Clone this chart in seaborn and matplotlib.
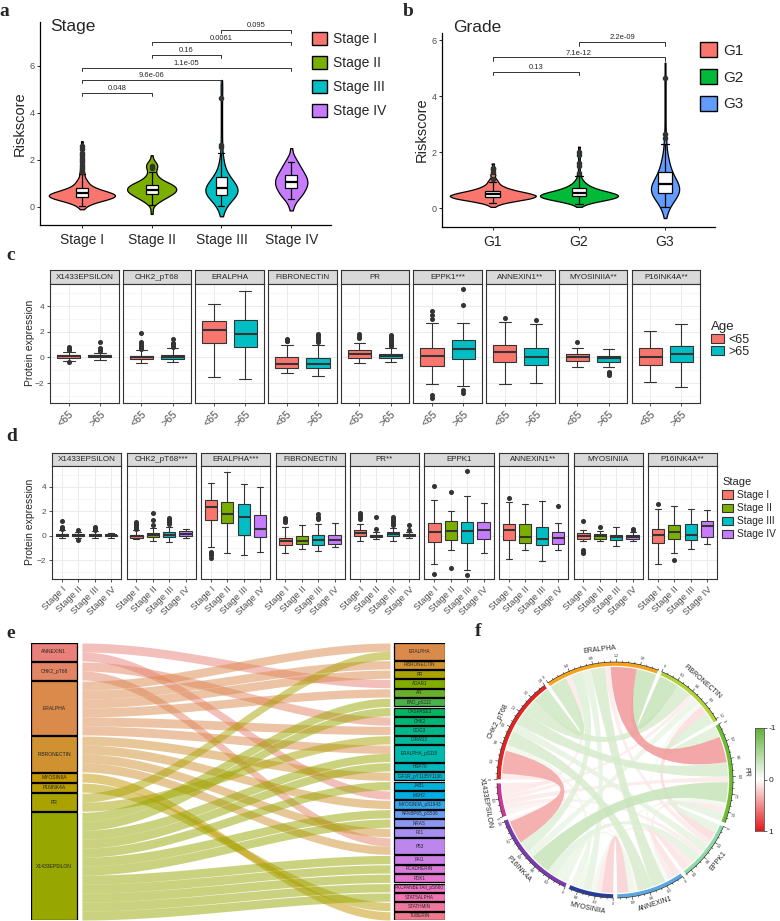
import numpy as np
import pandas as pd
import matplotlib
matplotlib.use("Agg")
import matplotlib.pyplot as plt
from matplotlib.patches import Patch, Rectangle, PathPatch
from matplotlib.path import Path
from matplotlib.colors import LinearSegmentedColormap
import seaborn as sns

sns.set_style("white")
plt.rcParams['font.family'] = ['Liberation Sans', 'DejaVu Sans']

# ---------------- data: panel a / b (riskscore) ----------------
stage_names = ["Stage I", "Stage II", "Stage III", "Stage IV"]
stage_cols = ["#F8766D", "#7CAE00", "#00BFC4", "#C77CFF"]
# violin shape: riskscore levels and number of samples at each level
stage_vio_levels = [
    [-0.1, 0.0, 0.1, 0.2, 0.3, 0.4, 0.5, 0.6, 0.7, 0.8, 0.9, 1.0, 1.1, 1.2, 1.4, 1.6,
     1.8, 2.0, 2.2, 2.4, 2.6, 2.8],
    [-0.3, -0.1, 0.1, 0.2, 0.3, 0.4, 0.5, 0.6, 0.7, 0.8, 0.9, 1.0, 1.1, 1.2, 1.3, 1.4,
     1.5, 1.6, 1.7, 1.8, 1.9, 2.0, 2.2],
    [-0.4, -0.2, 0.0, 0.2, 0.4, 0.6, 0.8, 1.0, 1.2, 1.4, 1.6, 1.8, 2.0, 2.2, 2.5, 2.8,
     3.2, 3.6, 4.0, 4.4, 4.8, 5.1, 5.4],
    [-0.15, 0.0, 0.15, 0.3, 0.45, 0.6, 0.75, 0.9, 1.05, 1.2, 1.35, 1.5, 1.65, 1.8, 1.95,
     2.1, 2.25, 2.5],
]
stage_vio_counts = [
    [1, 2, 4, 8, 14, 20, 22, 18, 12, 8, 5, 4, 3, 3, 3, 2, 2, 2, 1, 1, 1, 1],
    [1, 1, 2, 3, 5, 7, 9, 11, 12, 12, 11, 9, 6, 4, 3, 2, 2, 2, 3, 3, 2, 1, 1],
    [1, 2, 3, 6, 11, 15, 15, 11, 8, 5, 3, 2, 2, 1, 1, 1, 1, 1, 1, 1, 1, 1, 1],
    [1, 1, 2, 3, 5, 6, 7, 8, 8, 8, 7, 6, 5, 4, 3, 2, 1, 1],
]
# box: whisker low, q1, median, q3, whisker high ; outliers
stage_box = [[0.05, 0.44, 0.6, 0.82, 1.38], [0.1, 0.55, 0.72, 0.95, 1.5],
             [0.05, 0.5, 0.82, 1.29, 2.3], [0.35, 0.8, 1.05, 1.35, 1.9]]
stage_out = [[1.5, 1.6, 1.7, 1.8, 1.9, 2.0, 2.1, 2.2, 2.3, 2.45, 2.6], [1.65, 1.75],
             [2.55, 2.65, 4.65], []]
stage_pairs = [(0, 1), (0, 2), (0, 3), (1, 2), (1, 3), (2, 3)]
stage_pair_y = [4.86, 5.4, 5.93, 6.47, 7.0, 7.53]
stage_pvals = ["0.048", "9.6e-06", "1.1e-05", "0.16", "0.0061", "0.095"]

grade_names = ["G1", "G2", "G3"]
grade_cols = ["#F8766D", "#00BA38", "#619CFF"]
grade_vio_levels = [
    [0.05, 0.15, 0.25, 0.35, 0.45, 0.55, 0.65, 0.75, 0.85, 0.95, 1.05, 1.2, 1.4, 1.6],
    [0.05, 0.15, 0.25, 0.35, 0.45, 0.55, 0.65, 0.75, 0.85, 0.95, 1.05, 1.2, 1.4, 1.6,
     1.8, 2.0, 2.2],
    [-0.35, -0.15, 0.05, 0.25, 0.45, 0.65, 0.85, 1.05, 1.25, 1.45, 1.65, 1.85, 2.1, 2.4,
     2.7, 3.1, 3.5, 3.9, 4.3, 4.7, 5.2],
]
grade_vio_counts = [
    [1, 4, 12, 22, 26, 20, 12, 7, 4, 3, 2, 2, 1, 1],
    [1, 4, 12, 22, 26, 21, 13, 8, 5, 3, 2, 2, 1, 1, 1, 1, 1],
    [1, 2, 4, 8, 13, 16, 14, 10, 7, 5, 4, 3, 2, 2, 1, 1, 1, 1, 1, 1, 1],
]
grade_box = [[0.2, 0.4, 0.5, 0.62, 0.93], [0.15, 0.42, 0.55, 0.72, 1.15],
             [0.05, 0.55, 0.85, 1.3, 2.3]]
grade_out = [[1.05, 1.3, 1.4, 1.45], [1.25, 1.5, 1.6, 1.9, 2.0], [2.5, 2.65, 4.65]]
grade_pairs = [(0, 1), (0, 2), (1, 2)]
grade_pair_y = [4.88, 5.39, 5.93]
grade_pvals = ["0.13", "7.1e-12", "2.2e-09"]

# ---------------- data: panel c (age) ----------------
prot_names = ["X1433EPSILON", "CHK2_pT68", "ERALPHA", "FIBRONECTIN", "PR",
              "EPPK1", "ANNEXIN1", "MYOSINIIA", "P16INK4A"]
c_strips = ["X1433EPSILON", "CHK2_pT68", "ERALPHA", "FIBRONECTIN", "PR",
            "EPPK1***", "ANNEXIN1**", "MYOSINIIA**", "P16INK4A**"]
age_names = ["<65", ">65"]
age_cols = ["#F8766D", "#00BFC4"]
age_lt65_box = [[-0.25, -0.02, 0.08, 0.18, 0.45], [-0.45, -0.15, 0.0, 0.15, 0.55],
                [-1.51, 1.09, 2.15, 2.85, 4.2], [-1.25, -0.8, -0.5, 0.0, 1.0],
                [-0.4, -0.05, 0.25, 0.55, 1.1], [-2.1, -0.65, 0.1, 0.75, 2.65],
                [-2.1, -0.39, 0.39, 0.96, 2.77], [-0.73, -0.24, 0.05, 0.26, 0.75],
                [-1.9, -0.62, 0.05, 0.75, 2.05]]
age_lt65_out = [[0.55, 0.65, 0.78, -0.39], [0.65, 0.8, 0.9, 1.0, 1.1, 1.2, 1.87], [],
                [1.25, 1.3, 1.4], [1.5, 1.6, 1.7, 1.85], [3.0, 3.3, 3.6, -2.9, -3.15],
                [3.1], [1.17], []]
age_gt65_box = [[-0.2, 0.0, 0.08, 0.16, 0.38], [-0.35, -0.15, 0.05, 0.2, 0.7],
                [-1.7, 0.8, 1.85, 2.9, 5.2], [-1.45, -0.85, -0.55, -0.05, 1.0],
                [-0.35, -0.05, 0.1, 0.3, 0.75], [-2.2, -0.1, 0.62, 1.32, 2.7],
                [-2.0, -0.6, 0.0, 0.7, 2.6], [-0.75, -0.34, -0.08, 0.12, 0.62],
                [-2.28, -0.39, 0.28, 0.9, 2.57]]
age_gt65_out = [[0.5, 0.6, 0.7, 1.17], [0.85, 0.95, 1.05, 1.15, 1.45], [],
                [1.2, 1.35, 1.5, 1.65, 1.8], [0.9, 1.0, 1.1, 1.2, 1.3, 1.4, 1.5, 1.6, 1.75],
                [4.1, 5.3, -2.5, -2.75], [2.88], [-1.1, -1.2, -1.35], []]

# ---------------- data: panel d (stage) ----------------
d_strips = ["X1433EPSILON", "CHK2_pT68***", "ERALPHA***", "FIBRONECTIN", "PR**",
            "EPPK1", "ANNEXIN1**", "MYOSINIIA", "P16INK4A**"]
st1_box = [[-0.2, -0.02, 0.08, 0.18, 0.45], [-0.3, -0.15, 0.0, 0.1, 0.45],
           [-0.96, 1.31, 2.32, 2.95, 4.32], [-1.45, -0.75, -0.45, -0.15, 0.72],
           [-0.4, -0.05, 0.25, 0.5, 1.0], [-2.32, -0.55, 0.27, 1.04, 2.9],
           [-1.88, -0.33, 0.49, 0.96, 2.76], [-0.45, -0.25, 0.0, 0.2, 0.5],
           [-2.3, -0.6, 0.03, 0.57, 2.21]]
st1_out = [[0.55, 0.65, 0.75, 1.23], [0.55, 0.7, 0.85, 1.0, 1.15], [-1.3, -1.45, -1.6, -1.8],
           [1.1, 1.25, 1.45], [1.35, 1.5, 1.65, 1.8, 1.9], [4.12, -3.1], [3.08],
           [1.18, -1.2, -1.3, -1.4], [2.62]]
st2_box = [[-0.15, -0.02, 0.06, 0.15, 0.3], [-0.4, -0.1, 0.05, 0.25, 0.6],
           [-1.4, 1.04, 1.8, 2.76, 5.19], [-1.1, -0.7, -0.45, -0.05, 0.9],
           [-0.3, -0.1, 0.0, 0.1, 0.3], [-1.16, -0.33, 0.35, 1.18, 2.05],
           [-1.16, -0.6, -0.11, 0.98, 2.6], [-0.4, -0.25, -0.06, 0.13, 0.35],
           [-1.43, -0.25, 0.3, 0.87, 2.4]]
st2_out = [[0.45, -0.35], [0.9, 1.25, 1.9], [], [], [0.55, 1.5], [3.62, -2.65], [], [0.75], [-2.0]]
st3_box = [[-0.2, -0.03, 0.05, 0.15, 0.4], [-0.5, -0.1, 0.1, 0.3, 0.7],
           [-1.55, 0.08, 1.5, 2.58, 4.24], [-1.25, -0.8, -0.35, 0.05, 0.95],
           [-0.4, -0.05, 0.15, 0.3, 0.6], [-2.8, -0.6, 0.35, 1.1, 3.28],
           [-2.1, -0.74, -0.27, 0.71, 2.81], [-0.82, -0.33, -0.1, 0.08, 0.68],
           [-1.1, -0.33, 0.08, 0.98, 2.21]]
st3_out = [[0.5, 0.62, 0.75], [0.95, 1.1, 1.25, 1.45], [], [1.4, 1.55, 1.75],
           [0.9, 1.05, 1.2, 1.35, 1.55], [5.33, -3.2], [], [], []]
st4_box = [[-0.15, -0.03, 0.03, 0.1, 0.2], [-0.2, -0.05, 0.15, 0.4, 0.55],
           [-1.3, -0.14, 0.55, 1.7, 3.99], [-0.9, -0.65, -0.35, 0.1, 1.05],
           [-0.2, -0.05, 0.0, 0.12, 0.3], [-1.43, -0.3, 0.43, 1.1, 2.67],
           [-1.2, -0.68, -0.19, 0.3, 1.04], [-0.45, -0.27, -0.1, 0.03, 0.27],
           [-0.68, -0.14, 0.82, 1.18, 2.08]]
st4_out = [[], [], [], [], [0.5, 0.85], [], [2.43], [0.5, 0.55], []]

# ---------------- data: panel e (sankey) ----------------
left_nodes = ["ANNEXIN1", "CHK2_pT68", "ERALPHA", "FIBRONECTIN", "MYOSINIIA",
              "P16INK4A", "PR", "X1433EPSILON"]
right_nodes = ["ERALPHA", "FIBRONECTIN", "PR", "ADAR1", "AR", "BAD_pS112", "CASPASE3",
               "CHK2", "COG3", "DIRAS3", "ERALPHA_pS118", "HSP70", "IGF1R_pY1135Y1136",
               "JAB1", "MSH2", "MYOSINIIA_pS1943", "NFKBP65_pS536", "NRAS", "P21", "P53",
               "PAI1", "PCADHERIN", "PDK1", "PKCPANBETAII_pS660", "STAT5ALPHA",
               "STATHMIN", "TUBERIN"]
link_src = (["ANNEXIN1"] * 2 + ["CHK2_pT68"] * 2 + ["ERALPHA"] * 6 + ["FIBRONECTIN"] * 4
            + ["MYOSINIIA", "P16INK4A"] + ["PR"] * 2 + ["X1433EPSILON"] * 12)
link_dst = ["ADAR1", "MSH2", "CHK2", "P53",
            "ERALPHA", "FIBRONECTIN", "PR", "AR", "COG3", "ERALPHA_pS118",
            "IGF1R_pY1135Y1136", "MYOSINIIA_pS1943", "P21", "P53",
            "TUBERIN", "STATHMIN", "ERALPHA", "DIRAS3",
            "BAD_pS112", "CASPASE3", "ERALPHA_pS118", "HSP70", "JAB1", "NFKBP65_pS536",
            "NRAS", "PAI1", "PCADHERIN", "PDK1", "PKCPANBETAII_pS660", "STAT5ALPHA"]

# ---------------- data: panel f (chord) ----------------
chord_sectors = ["ERALPHA", "FIBRONECTIN", "PR", "EPPK1", "ANNEXIN1", "MYOSINIIA",
                 "P16INK4A", "X1433EPSILON", "CHK2_pT68"]
sector_cols = ["#F7A21B", "#B2D235", "#6DBE2E", "#8FD9A8", "#5BA8DE", "#283C9C",
               "#7B3AAE", "#CF3496", "#E2231F"]
sector_step = [0.4, 0.3, 0.3, 0.3, 0.3, 0.3, 0.3, 0.3, 0.3]
chord_a = ["ERALPHA"] * 8 + ["FIBRONECTIN"] * 6 + ["PR"] * 6 + ["EPPK1"] * 5 + \
          ["ANNEXIN1"] * 4 + ["MYOSINIIA"] * 2 + ["P16INK4A"] * 2 + ["X1433EPSILON"]
chord_b = ["PR", "FIBRONECTIN", "CHK2_pT68", "ANNEXIN1", "X1433EPSILON", "P16INK4A", "EPPK1", "MYOSINIIA",
           "PR", "CHK2_pT68", "EPPK1", "P16INK4A", "X1433EPSILON", "ANNEXIN1",
           "CHK2_pT68", "P16INK4A", "EPPK1", "ANNEXIN1", "X1433EPSILON", "MYOSINIIA",
           "ANNEXIN1", "CHK2_pT68", "P16INK4A", "MYOSINIIA", "X1433EPSILON",
           "MYOSINIIA", "CHK2_pT68", "P16INK4A", "X1433EPSILON",
           "P16INK4A", "CHK2_pT68",
           "CHK2_pT68", "X1433EPSILON",
           "CHK2_pT68"]
chord_r = [0.45, -0.35, -0.3, -0.25, 0.1, -0.2, 0.1, -0.15,
           -0.2, -0.25, 0.15, -0.13, 0.08, -0.07,
           -0.25, -0.35, -0.15, 0.1, 0.1, -0.08,
           0.12, -0.15, -0.16, 0.1, 0.08,
           0.2, -0.25, -0.11, 0.05,
           -0.12, -0.1,
           0.4, 0.05,
           0.1]

# ---------------- figure helpers ----------------
W, H = 780, 921
fig = plt.figure(figsize=(W / 100, H / 100), dpi=100)


def px_axes(x0, y0, x1, y1):
    return fig.add_axes([x0 / W, 1 - y1 / H, (x1 - x0) / W, (y1 - y0) / H])


def ftext(x, y, s, **kw):
    fig.text(x / W, 1 - y / H, s, **kw)


def box_sample(stats, extra):
    return np.concatenate([np.repeat(stats, 50), np.asarray(extra, dtype=float)])


def hcl_color(h, c=100.0, l=65.0):
    # ggplot style hue colour (polar Luv -> sRGB)
    xn, yn, zn = 95.047, 100.0, 108.883
    un = 4 * xn / (xn + 15 * yn + 3 * zn)
    vn = 9 * yn / (xn + 15 * yn + 3 * zn)
    u = c * np.cos(np.radians(h)) / (13 * l) + un
    v = c * np.sin(np.radians(h)) / (13 * l) + vn
    y = yn * ((l + 16) / 116) ** 3
    x = y * 9 * u / (4 * v)
    z = y * (12 - 3 * u - 20 * v) / (4 * v)
    m = np.array([[3.2406, -1.5372, -0.4986], [-0.9689, 1.8758, 0.0415],
                  [0.0557, -0.2040, 1.0570]])
    rgb = m @ (np.array([x, y, z]) / 100)
    rgb = np.where(rgb <= 0.0031308, 12.92 * rgb, 1.055 * np.clip(rgb, 0, None) ** (1 / 2.4) - 0.055)
    return tuple(np.clip(rgb, 0, 1))


flier = dict(marker='o', markerfacecolor='#333333', markeredgecolor='#333333')


def violin_panel(ax, names, cols, levels, counts, boxes, outs, width):
    vio = pd.DataFrame({
        'grp': np.repeat(names, [sum(c) for c in counts]),
        'val': np.concatenate([np.repeat(l, c) for l, c in zip(levels, counts)])})
    bx = pd.DataFrame({
        'grp': np.concatenate([[n] * (250 + len(o)) for n, o in zip(names, outs)]),
        'val': np.concatenate([box_sample(b, o) for b, o in zip(boxes, outs)])})
    # no hue, so 'area' scaling is shared by all violins; colours set afterwards
    sns.violinplot(data=vio, x='grp', y='val', order=names, color='white',
                   cut=0, inner=None, density_norm='area', width=width, bw_adjust=0.6,
                   linewidth=0.9, linecolor='black', saturation=1, ax=ax)
    for coll, c in zip(ax.collections, cols):
        coll.set_facecolor(c)
    sns.boxplot(data=bx, x='grp', y='val', order=names, color='white', width=0.17,
                linewidth=0.9, linecolor='black', fliersize=3, saturation=1,
                flierprops=flier, medianprops=dict(linewidth=1.6), ax=ax)
    ax.set_xlabel('')
    ax.set_ylabel('Riskscore', fontsize=10.5, labelpad=2)
    sns.despine(ax=ax)
    for s in ['left', 'bottom']:
        ax.spines[s].set_linewidth(0.9)
        ax.spines[s].set_color('black')
    ax.set_yticks([0, 2, 4, 6])
    ax.tick_params(axis='y', labelsize=6.5, labelcolor='#4D4D4D', length=2.5, width=0.7, left=True, pad=1.5)
    ax.tick_params(axis='x', labelsize=10, length=2.5, width=0.7, bottom=True)


def brackets(ax, pairs, levels, labels, tick):
    for (i, j), y, lab in zip(pairs, levels, labels):
        ax.plot([i, i, j, j], [y - tick, y, y, y - tick], color='#333333', lw=0.7)
        ax.text((i + j) / 2, y + tick * 0.25, lab, ha='center', va='bottom', fontsize=5.5)


# ---------------- panel a ----------------
ax_a = px_axes(40, 22, 331, 225)
violin_panel(ax_a, stage_names, stage_cols, stage_vio_levels, stage_vio_counts,
             stage_box, stage_out, 0.95)
ax_a.set_xlim(-0.6, 3.57)
ax_a.set_ylim(-0.77, 7.87)
brackets(ax_a, stage_pairs, stage_pair_y, stage_pvals, 0.13)
ftext(50, 27, "Stage", fontsize=12.5, va='center')
fig.legend(handles=[Patch(facecolor=c, edgecolor='black', lw=1) for c in stage_cols],
           labels=stage_names, loc='upper left', bbox_to_anchor=(312 / W, 1 - 32 / H),
           frameon=False, fontsize=10, borderpad=0, borderaxespad=0, handlelength=1.08,
           handleheight=1.08, labelspacing=0.7, handletextpad=0.4)

# ---------------- panel b ----------------
ax_b = px_axes(442, 33, 715, 227)
violin_panel(ax_b, grade_names, grade_cols, grade_vio_levels, grade_vio_counts,
             grade_box, grade_out, 1.0)
ax_b.set_xlim(-0.59, 2.58)
ax_b.set_ylim(-0.67, 6.26)
brackets(ax_b, grade_pairs, grade_pair_y, grade_pvals, 0.12)
ftext(453, 28, "Grade", fontsize=12.5, va='center')
fig.legend(handles=[Patch(facecolor=c, edgecolor='black', lw=1) for c in grade_cols],
           labels=grade_names, loc='upper left', bbox_to_anchor=(700 / W, 1 - 42 / H),
           frameon=False, fontsize=11, borderpad=0, borderaxespad=0, handlelength=1.1,
           handleheight=1.1, labelspacing=0.75, handletextpad=0.4)


# ---------------- facet helpers (c, d) ----------------
def facet(x0, x1, ys, y0, y1, title, df, groups, cols, first, fs_tick):
    st = px_axes(x0, ys, x1, y0)
    st.set_facecolor('#D9D9D9')
    st.set_xticks([]); st.set_yticks([])
    for s in st.spines.values():
        s.set_color('#333333'); s.set_linewidth(0.8)
    st.text(0.5, 0.5, title, ha='center', va='center', fontsize=5.8, transform=st.transAxes)
    ax = px_axes(x0, y0, x1, y1)
    sns.boxplot(data=df, x='grp', y='val', hue='grp', order=groups, hue_order=groups,
                palette=cols, width=0.75, linewidth=0.8, linecolor='#333333',
                fliersize=2.6, saturation=1, legend=False, flierprops=flier,
                medianprops=dict(linewidth=1.5), ax=ax)
    ax.set_xlim(-0.6, len(groups) - 0.4)
    ax.set_ylim(-3.55, 5.72)
    ax.set_yticks([-2, 0, 2, 4])
    ax.set_yticks([-3, -1, 1, 3, 5], minor=True)
    ax.grid(True, which='major', color='#EBEBEB', lw=0.7)
    ax.grid(True, which='minor', axis='y', color='#F2F2F2', lw=0.45)
    ax.set_axisbelow(True)
    for s in ax.spines.values():
        s.set_visible(True); s.set_color('#333333'); s.set_linewidth(0.8)
    ax.set_xlabel(''); ax.set_ylabel('')
    ax.tick_params(which='minor', length=0)
    ax.tick_params(which='major', length=2.5, width=0.6, color='#333333', labelsize=6,
                   labelcolor='#4D4D4D', pad=1.5, left=True, bottom=True)
    ax.set_xticks(range(len(groups)))
    ax.set_xticklabels(groups, rotation=45, ha='right', rotation_mode='anchor',
                       fontsize=fs_tick, color='#4D4D4D')
    if not first:
        ax.tick_params(axis='y', labelleft=False, left=False)
    return ax


# ---------------- panel c ----------------
c_w, c_x0, c_x1 = 68.5, 50, 700
c_gap = (c_x1 - c_x0 - 9 * c_w) / 8
for i, prot in enumerate(prot_names):
    df = pd.DataFrame({
        'grp': ["<65"] * (250 + len(age_lt65_out[i])) + [">65"] * (250 + len(age_gt65_out[i])),
        'val': np.concatenate([box_sample(age_lt65_box[i], age_lt65_out[i]),
                               box_sample(age_gt65_box[i], age_gt65_out[i])])})
    x0 = c_x0 + i * (c_w + c_gap)
    facet(x0, x0 + c_w, 270, 284, 403, c_strips[i], df, age_names, age_cols, i == 0, 7.5)
ftext(30, 343, "Protein expression", rotation=90, va='center', ha='center', fontsize=7.5)
fig.legend(handles=[Patch(facecolor=c, edgecolor='#333333', lw=0.8) for c in age_cols],
           labels=age_names, title="Age", loc='upper left', bbox_to_anchor=(711 / W, 1 - 321 / H),
           frameon=False, fontsize=9, title_fontsize=9.5, borderpad=0, borderaxespad=0,
           handlelength=1.0, handleheight=0.7, labelspacing=0.05, handletextpad=0.4,
           alignment='left')

# ---------------- panel d ----------------
d_w, d_x0, d_x1 = 69, 52, 717
d_gap = (d_x1 - d_x0 - 9 * d_w) / 8
st_boxes = [st1_box, st2_box, st3_box, st4_box]
st_outs = [st1_out, st2_out, st3_out, st4_out]
for i, prot in enumerate(prot_names):
    grp, val = [], []
    for s in range(4):
        grp += [stage_names[s]] * (250 + len(st_outs[s][i]))
        val.append(box_sample(st_boxes[s][i], st_outs[s][i]))
    df = pd.DataFrame({'grp': grp, 'val': np.concatenate(val)})
    x0 = d_x0 + i * (d_w + d_gap)
    facet(x0, x0 + d_w, 453, 466, 579, d_strips[i], df, stage_names, stage_cols, i == 0, 6.8)
ftext(30, 522, "Protein expression", rotation=90, va='center', ha='center', fontsize=7.5)
fig.legend(handles=[Patch(facecolor=c, edgecolor='#333333', lw=0.8) for c in stage_cols],
           labels=stage_names, title="Stage", loc='upper left', bbox_to_anchor=(722 / W, 1 - 477 / H),
           frameon=False, fontsize=7.3, title_fontsize=8, borderpad=0, borderaxespad=0,
           handlelength=1.1, handleheight=0.85, labelspacing=0.3, handletextpad=0.4,
           alignment='left')

# ---------------- panel e: sankey ----------------
ax_e = px_axes(31, 643, 445, 920)
ax_e.set_xlim(0, 1)
ax_e.set_ylim(1, 0)
ax_e.axis('off')
all_names = left_nodes + [n for n in right_nodes if n not in left_nodes]
hues = np.linspace(15, 375, len(all_names) + 1)[:-1]
node_col = {n: hcl_color(h, c=78) for n, h in zip(all_names, hues)}
left_cnt = [link_src.count(n) for n in left_nodes]
right_cnt = [link_dst.count(n) for n in right_nodes]
gap_e = 0.004
xl0, xl1, xr0, xr1 = 0.0, 0.111, 0.877, 1.0
rx0, rx1 = 0.123, 0.867


def stack(counts):
    unit = (1 - gap_e * (len(counts) - 1)) / sum(counts)
    tops, y = [], 0.0
    for c in counts:
        tops.append(y)
        y += c * unit + gap_e
    return tops, unit


l_top, l_unit = stack(left_cnt)
r_top, r_unit = stack(right_cnt)
l_fill = {n: 0 for n in left_nodes}
r_fill = {n: 0 for n in right_nodes}
order = sorted(range(len(link_src)), key=lambda k: (left_nodes.index(link_src[k]),
                                                   right_nodes.index(link_dst[k])))
src_pos = {}
for k in order:
    s = link_src[k]
    src_pos[k] = l_top[left_nodes.index(s)] + l_fill[s] * l_unit
    l_fill[s] += 1
dst_pos = {}
for k in order:
    d = link_dst[k]
    dst_pos[k] = r_top[right_nodes.index(d)] + r_fill[d] * r_unit
    r_fill[d] += 1
xs = np.linspace(rx0, rx1, 80)
sm = (xs - rx0) / (rx1 - rx0)
sm = 3 * sm ** 2 - 2 * sm ** 3
for k in order:
    top = src_pos[k] + (dst_pos[k] - src_pos[k]) * sm
    bot = src_pos[k] + l_unit + (dst_pos[k] + r_unit - src_pos[k] - l_unit) * sm
    ax_e.fill_between(xs, top, bot, color=node_col[link_src[k]], alpha=0.5, lw=0)
for n, t, c in zip(left_nodes, l_top, left_cnt):
    ax_e.add_patch(Rectangle((xl0, t), xl1 - xl0, c * l_unit, facecolor=node_col[n],
                             edgecolor='black', lw=0.9))
    ax_e.text((xl0 + xl1) / 2, t + c * l_unit / 2, n, ha='center', va='center', fontsize=3.6)
for n, t, c in zip(right_nodes, r_top, right_cnt):
    ax_e.add_patch(Rectangle((xr0, t), xr1 - xr0, c * r_unit, facecolor=node_col[n],
                             edgecolor='black', lw=0.9))
    ax_e.text((xr0 + xr1) / 2, t + c * r_unit / 2, n, ha='center', va='center', fontsize=3.3)

# ---------------- panel f: chord ----------------
ax_f = px_axes(480, 640, 750, 921)
ax_f.set_xlim(-135, 135)
ax_f.set_ylim(-141, 140)
ax_f.axis('off')
cmap = LinearSegmentedColormap.from_list('gwr', ['#5FB236', '#FFFFFF', '#E31A1C'])
n_sec = len(chord_sectors)
sidx = {n: i for i, n in enumerate(chord_sectors)}
sec_size = np.zeros(n_sec)
for a, b, r in zip(chord_a, chord_b, chord_r):
    sec_size[sidx[a]] += abs(r)
    sec_size[sidx[b]] += abs(r)
gap_deg = 2.0
deg_per = (360 - n_sec * gap_deg) / sec_size.sum()
sec_start = []
ang = 124.6
for k in range(n_sec):
    sec_start.append(ang)
    ang -= sec_size[k] * deg_per + gap_deg


def v2a(k, v):
    return sec_start[k] - v * deg_per


slots = {}
for k in range(n_sec):
    links = []
    for m, (a, b) in enumerate(zip(chord_a, chord_b)):
        if sidx[a] == k:
            links.append((m, sidx[b]))
        elif sidx[b] == k:
            links.append((m, sidx[a]))
    links.sort(key=lambda t: -((t[1] - k) % n_sec))
    pos = 0.0
    for m, other in links:
        w = abs(chord_r[m])
        slots[(m, k)] = (pos, pos + w)
        pos += w

r_in = 113


def arc_pts(k, v0, v1, rad):
    t = np.radians(np.linspace(v2a(k, v0), v2a(k, v1), 25))
    return np.column_stack([rad * np.cos(t), rad * np.sin(t)])


for m in sorted(range(len(chord_r)), key=lambda q: abs(chord_r[q])):
    ka, kb = sidx[chord_a[m]], sidx[chord_b[m]]
    A = arc_pts(ka, *slots[(m, ka)], r_in)
    B = arc_pts(kb, *slots[(m, kb)], r_in)
    verts = list(A) + [(0, 0), B[0]] + list(B[1:]) + [(0, 0), A[0]]
    codes = ([Path.MOVETO] + [Path.LINETO] * (len(A) - 1) + [Path.CURVE3, Path.CURVE3]
             + [Path.LINETO] * (len(B) - 1) + [Path.CURVE3, Path.CURVE3])
    ax_f.add_patch(PathPatch(Path(verts, codes), facecolor=cmap((chord_r[m] + 1) / 2),
                             edgecolor='none', alpha=0.85))


def tangent_rot(deg):
    rot = (deg - 90 + 180) % 360 - 180
    if rot < -90:
        rot += 180
    elif rot > 90:
        rot -= 180
    return rot


for k, name in enumerate(chord_sectors):
    t = np.radians(np.linspace(v2a(k, 0), v2a(k, sec_size[k]), 60))
    ax_f.plot(116 * np.cos(t), 116 * np.sin(t), color=sector_cols[k], lw=2.6,
              solid_capstyle='butt')
    ax_f.plot(118 * np.cos(t), 118 * np.sin(t), color='black', lw=0.4)
    for j in range(int(sec_size[k] / 0.1 + 1e-6) + 1):
        v = j * 0.1
        th = np.radians(v2a(k, v))
        major = abs(v / sector_step[k] - round(v / sector_step[k])) < 1e-6
        r2 = 121 if major else 119.5
        ax_f.plot([118 * np.cos(th), r2 * np.cos(th)], [118 * np.sin(th), r2 * np.sin(th)],
                  color='black', lw=0.35)
        if major:
            ax_f.text(124 * np.cos(th), 124 * np.sin(th), f"{round(v, 1):g}", fontsize=2.6,
                      ha='center', va='center', rotation=tangent_rot(np.degrees(th)))
    mid = v2a(k, sec_size[k] / 2)
    thm = np.radians(mid)
    ax_f.text(131 * np.cos(thm), 131 * np.sin(thm), name, fontsize=5, ha='center',
              va='center', rotation=tangent_rot(mid))

ax_cb = px_axes(755, 728, 764, 831)
ax_cb.imshow(np.linspace(-1, 1, 200).reshape(-1, 1), cmap=cmap, aspect='auto',
             extent=(0, 1, 1, -1), origin='upper')
ax_cb.set_xticks([])
ax_cb.yaxis.tick_right()
ax_cb.set_yticks([-1, 0, 1])
ax_cb.set_yticklabels(["-1", "0", "1"])
ax_cb.tick_params(axis='y', labelsize=6, length=2, width=0.5, pad=1)
for s in ax_cb.spines.values():
    s.set_color('#555555'); s.set_linewidth(0.6)

# ---------------- panel letters ----------------
for lab, x, y in [('a', 4, 12), ('b', 408, 12), ('c', 11, 256), ('d', 12, 436),
                  ('e', 11, 634), ('f', 478, 632)]:
    ftext(x, y, lab, fontsize=14, weight='bold', family='Liberation Serif',
          ha='center', va='center')

fig.savefig("out.png", dpi=100)
